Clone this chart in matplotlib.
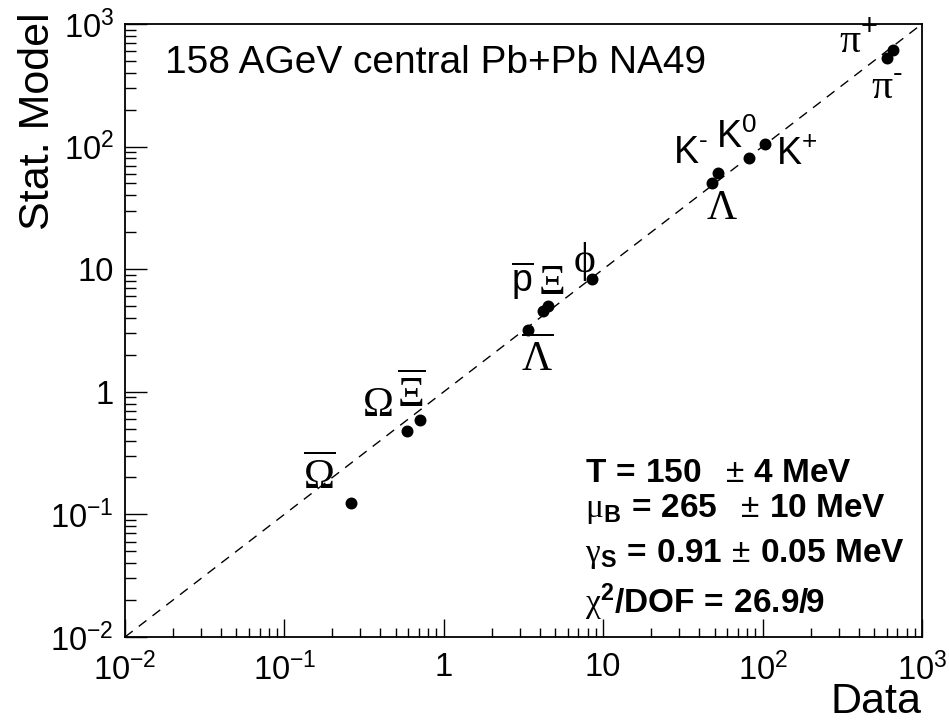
import matplotlib
matplotlib.use("Agg")
import matplotlib.pyplot as plt
from matplotlib.ticker import LogLocator, FixedLocator, FixedFormatter, NullFormatter

plt.rcParams['font.family'] = ['Liberation Sans', 'DejaVu Sans']
plt.rcParams['mathtext.fontset'] = 'custom'
plt.rcParams['mathtext.rm'] = 'Liberation Sans'
plt.rcParams['mathtext.it'] = 'Liberation Sans:italic'
plt.rcParams['mathtext.bf'] = 'Liberation Sans:bold'
plt.rcParams['mathtext.sf'] = 'Liberation Serif'   # used for the Greek letters

# data: measured yield vs statistical model yield
particles = ['Omegabar', 'Omega', 'Xibar', 'Lambdabar', 'pbar', 'Xi', 'phi',
             'Lambda', 'K-', 'K0', 'K+', 'pi-', 'pi+']
data_vals = [0.262, 0.588, 0.710, 3.37, 4.2, 4.5, 8.51,
             48.2, 52.5, 82.2, 103.5, 603, 658]
model_vals = [0.124, 0.479, 0.589, 3.19, 4.6, 5.0, 8.32,
              50.5, 61.0, 80.7, 105, 528, 614]

# particle labels and where they sit (data coords)
label_text = [r'$\overline{\mathsf{\Omega}}$', r'$\mathsf{\Omega}$', r'$\overline{\mathsf{\Xi}}$',
              r'$\overline{\mathsf{\Lambda}}$', r'$\overline{\mathrm{p}}$', r'$\mathsf{\Xi}$',
              r'$\mathsf{\phi}$', r'$\mathsf{\Lambda}$', r'$\mathrm{K}^{\text{-}}$', r'$\mathrm{K}^{0}$',
              r'$\mathrm{K}^{+}$', r'$\mathsf{\pi}^{\text{-}}$', r'$\mathsf{\pi}^{+}$']
label_size = [30, 30, 30, 30, 27, 30, 30, 30, 27, 27, 27, 30, 30]
label_x = [0.165, 0.381, 0.63, 3.85, 3.10, 4.70, 7.59, 55.6, 35.1, 69, 164, 603, 397]
label_y = [0.206, 0.78, 0.96, 1.89, 8.0, 7.7, 11.5, 31.5, 88.7, 120, 85, 300, 713]

stats_lines = [r'$\mathbf{T\,=\,150}\ \ \pm\,\mathbf{4\ MeV}$',
               r'$\mathsf{\mu}_{\mathbf{B}}\,\mathbf{=\,265}\ \ \pm\,\mathbf{10\ MeV}$',
               r'$\mathsf{\gamma}_{\mathbf{S}}\,\mathbf{=\,0.91}\,\pm\,\mathbf{0.05\ MeV}$',
               r'$\mathsf{\chi}^{\mathbf{2}}\mathbf{/DOF\,=\,26.9/9}$']
stats_y = [0.253, 0.196, 0.122, 0.039]

ticks = [1e-2, 1e-1, 1, 10, 1e2, 1e3]
tick_labels = [r'$10^{-2}$', r'$10^{-1}$', '1', '10', r'$10^{2}$', r'$10^{3}$']

fig = plt.figure(figsize=(9.49, 7.26), dpi=100)
ax = fig.add_axes([0.1317, 0.1226, 0.8398, 0.8444])
ax.set_xscale('log')
ax.set_yscale('log')
ax.set_xlim(1e-2, 1e3)
ax.set_ylim(1e-2, 1e3)

# y = x reference
ax.plot([1e-2, 1e3], [1e-2, 1e3], color='black', lw=1.0, ls=(0, (7, 5.5)))
ax.plot(data_vals, model_vals, 'o', color='black', ms=8.6, mew=0)

for t, fs, lx, ly in zip(label_text, label_size, label_x, label_y):
    ax.text(lx, ly, t, fontsize=fs, ha='center', va='center')

ax.text(0.05, 0.92, '158 AGeV central Pb+Pb NA49', transform=ax.transAxes,
        fontsize=28, va='baseline')

for s, sy in zip(stats_lines, stats_y):
    ax.text(0.577, sy, s, transform=ax.transAxes, fontsize=24, va='baseline')

for axis in (ax.xaxis, ax.yaxis):
    axis.set_major_locator(FixedLocator(ticks))
    axis.set_major_formatter(FixedFormatter(tick_labels))
    axis.set_minor_locator(LogLocator(base=10, subs=range(2, 10), numticks=20))
    axis.set_minor_formatter(NullFormatter())

ax.tick_params(axis='x', which='major', direction='in', length=13, width=1, pad=11, labelsize=23.5)
ax.tick_params(axis='x', which='minor', direction='in', length=6.5, width=1)
ax.tick_params(axis='y', which='major', direction='in', length=16, width=1, pad=8, labelsize=23.5)
ax.tick_params(axis='y', which='minor', direction='in', length=8, width=1)
ax.tick_params(top=False, right=False, which='both')
for sp in ax.spines.values():
    sp.set_linewidth(1.3)

fig.text(38 / 949, 1 - 12 / 726, 'Stat. Model', rotation=90, fontsize=31, ha='center', va='top')
fig.text(922 / 949, 4 / 726, 'Data', fontsize=31, ha='right', va='bottom')

fig.savefig('out.png', dpi=100)
